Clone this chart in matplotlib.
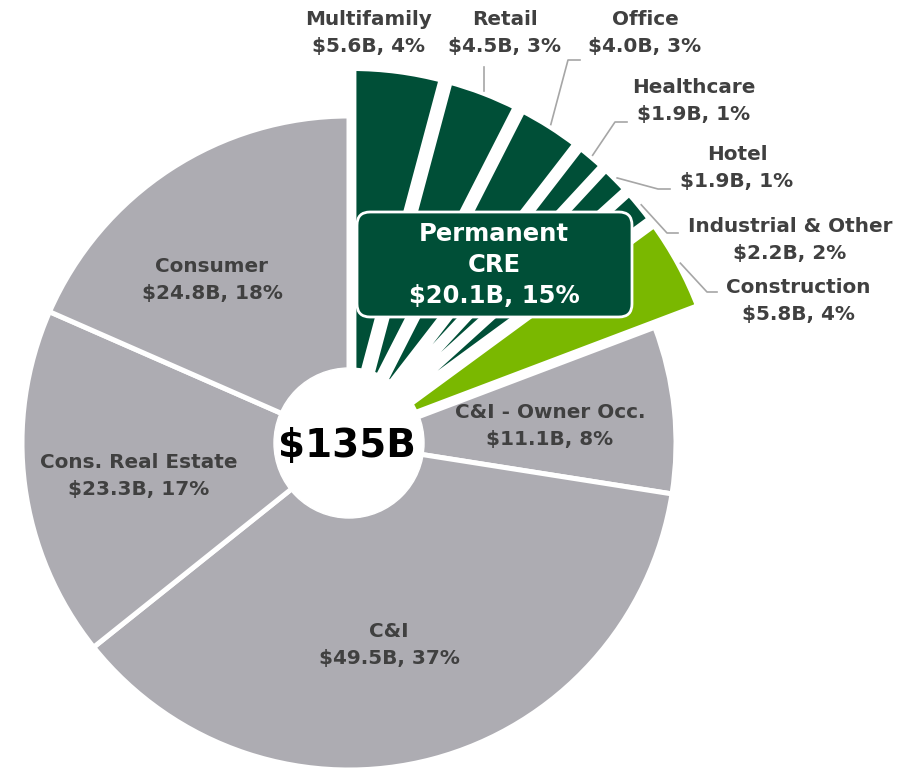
import matplotlib
matplotlib.use("Agg")
import matplotlib.pyplot as plt
from matplotlib.patches import Circle, FancyBboxPatch
import numpy as np

# Loan portfolio, $B
names = ["Multifamily", "Retail", "Office", "Healthcare", "Hotel",
         "Industrial & Other", "Construction", "C&I - Owner Occ.", "C&I",
         "Cons. Real Estate", "Consumer"]
values = [5.6, 4.5, 4.0, 1.9, 1.9, 2.2, 5.8, 11.1, 49.5, 23.3, 24.8]
pcts = ["4%", "3%", "3%", "1%", "1%", "2%", "4%", "8%", "37%", "17%", "18%"]
cre_total = "$20.1B, 15%"
total_label = "$135B"

DARK = "#004F37"
LIGHT = "#7AB800"
GRAY = "#ADACB2"
TXT = "#404040"
colors = [DARK] * 6 + [LIGHT] + [GRAY] * 4

# pixel layout helpers (center of the pie at px 349,443)
W, H = 902, 775
CX, CY, S = 349, 443, 327


def P(px, py):
    return (px - CX) / S, (CY - py) / S


fig = plt.figure(figsize=(W / 100, H / 100), dpi=100)
ax = fig.add_axes([0, 0, 1, 1])

explode = [0.06] * 7 + [0] * 4
wedges, _ = ax.pie(values, colors=colors, startangle=90, counterclock=False,
                   explode=explode, radius=1.0,
                   wedgeprops=dict(edgecolor="white", linewidth=3.6, joinstyle="bevel"))
for w in wedges[:7]:
    w.set_radius(1.093)
    w.set_linewidth(7.0)

ax.set_aspect("equal")
ax.set_xlim(-CX / S, (W - CX) / S)
ax.set_ylim(-(H - CY) / S, CY / S)
ax.axis("off")

# donut hole
ax.add_patch(Circle((0, 0), 75 / S, color="white", zorder=3))
ax.text(*P(347, 446), total_label, ha="center", va="center", fontsize=28,
        fontweight="heavy", color="black", zorder=4)

# label positions in pixels
label_pos = [(369, 33), (505, 33), (645, 33), (694, 101), (737, 168),
             (790, 240), (798, 301), (550, 426), (389, 645), (139, 476), (212, 280)]
for i, (n, v, p) in enumerate(zip(names, values, pcts)):
    ax.text(*P(*label_pos[i]), f"{n}\n${v}B, {p}", ha="center", va="center",
            fontsize=14.4, fontweight="bold", color=TXT, linespacing=1.55, zorder=5)

# leader lines: from label elbow to the wedge's outer edge at its mid-angle
elbows = {1: [(None, 67)],
          2: [(580, 60), (568, 60)],
          3: [(627, 122), (615, 122)],
          4: [(670, 189), (658, 189)],
          5: [(678, 233), (667, 233)],
          6: [(717, 292), (707, 292)]}
for i, pts in elbows.items():
    w = wedges[i]
    mid = np.deg2rad((w.theta1 + w.theta2) / 2)
    ex = w.center[0] + w.r * np.cos(mid)
    ey = w.center[1] + w.r * np.sin(mid)
    xs, ys = [], []
    for px, py in pts:
        x, y = P(px if px is not None else ex * S + CX, py)
        xs.append(x)
        ys.append(y)
    xs.append(ex)
    ys.append(ey)
    ax.plot(xs, ys, color="#A6A6A6", lw=1.2, zorder=2)

# Permanent CRE callout box
x0, y1 = P(357, 212)
x1, y0 = P(632, 317)
box = FancyBboxPatch((x0, y0), x1 - x0, y1 - y0,
                     boxstyle="round,pad=0,rounding_size=0.04",
                     fc=DARK, ec="white", lw=2, zorder=6)
ax.add_patch(box)
ax.text(*P(494, 265), "Permanent\nCRE\n" + cre_total, ha="center", va="center",
        fontsize=17.5, fontweight="bold", color="white", linespacing=1.35, zorder=7)

fig.savefig("out.png", dpi=100)
